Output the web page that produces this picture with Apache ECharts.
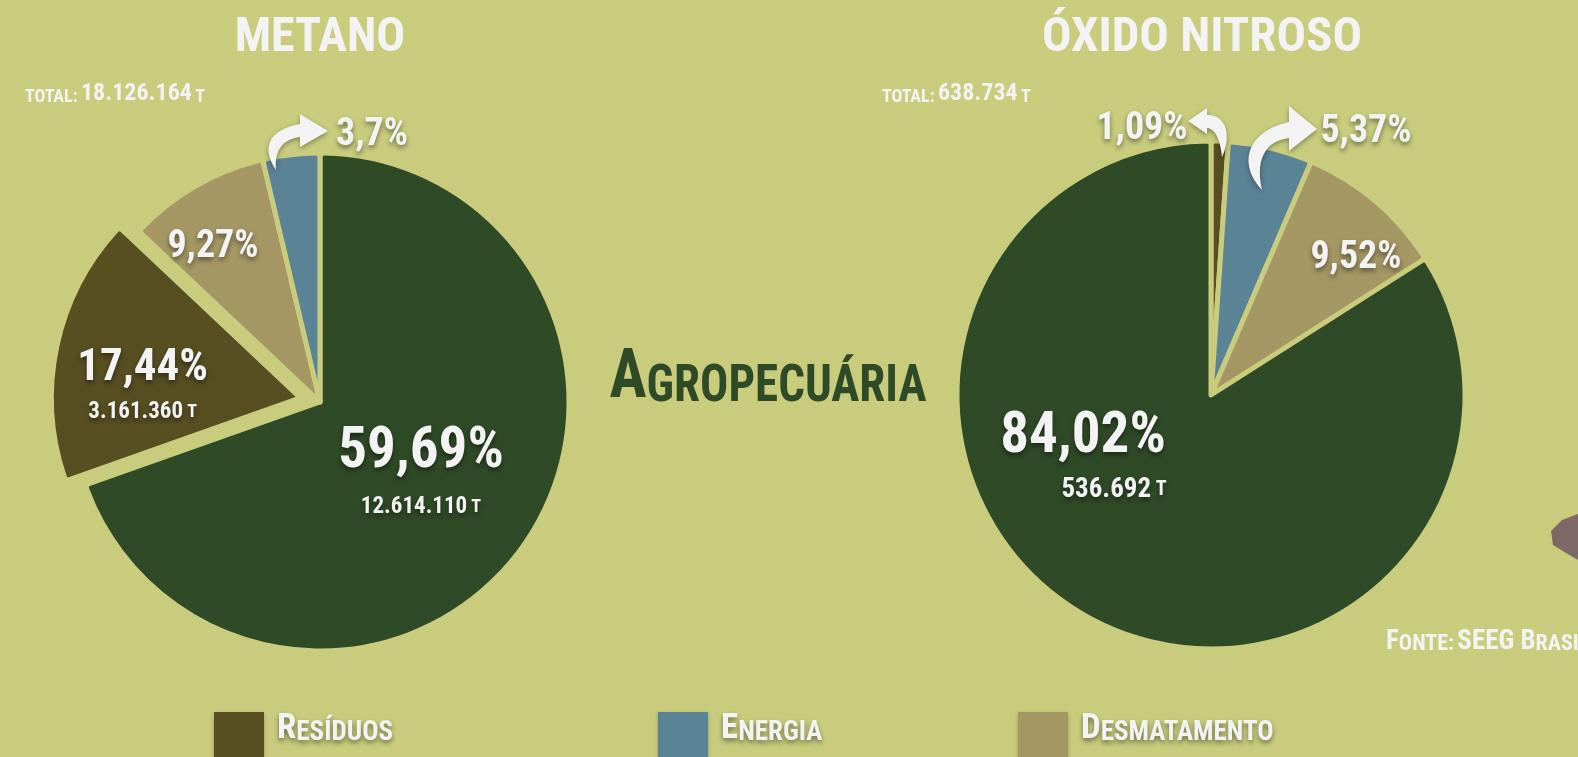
<!DOCTYPE html>
<html>
<head>
<meta charset="utf-8">
<script src="https://cdn.jsdelivr.net/npm/echarts@6/dist/echarts.min.js"></script>
<style>
  html, body { margin: 0; padding: 0; background: #c8cc7c; }
  #chart { width: 1578px; height: 757px; }
</style>
</head>
<body>
<div id="chart"></div>
<script>
// dados - metano
var metanoCats = ['Agropecuária', 'Resíduos', 'Desmatamento', 'Energia'];
var metanoVals = [12614110, 3161360, 1680295, 670399];
var metanoPct = ['59,69%', '17,44%', '9,27%', '3,7%'];
var metanoTon = ['12.614.110', '3.161.360', '', ''];
var metanoTotal = '18.126.164';

// dados - oxido nitroso
var oxidoCats = ['Resíduos', 'Energia', 'Desmatamento', 'Agropecuária'];
var oxidoVals = [6962, 34300, 60780, 536692];
var oxidoPct = ['1,09%', '5,37%', '9,52%', '84,02%'];
var oxidoTon = ['', '', '', '536.692'];
var oxidoTotal = '638.734';

var legendCats = ['Resíduos', 'Energia', 'Desmatamento'];

// layout
var bg = '#c8cc7c';
var FONT = '"Roboto Condensed", "Liberation Sans Narrow", "DejaVu Sans Condensed", sans-serif';
var cores = {
  'Agropecuária': '#2f4a27',
  'Resíduos': '#574e22',
  'Energia': '#5a8396',
  'Desmatamento': '#a49764'
};
var metanoCenter = [320, 402];
var oxidoCenter = [1211, 395];
var metanoLabelPos = [[101, 25], null, [-107, -175], [52, -287]];
var metanoLabelSize = ['a', 'm', 's', 's'];
var metanoShift = [0, 0, 0, 0];
var oxidoLabelPos = [[-69, -286], [155, -283], [145, -157], [-128, 17]];
var oxidoLabelSize = ['s', 's', 's', 'b'];
var oxidoShift = [0, 0, 0, 62];
// fatia destacada: rotulo segue a fatia, ajuste por padding
var explodePad = [36, 66, 0, 0];
var legendLeft = [214, 658, 1018];

var white = '#f3f3f3';
var shadow = { textShadowColor: 'rgba(0,0,0,0.45)', textShadowBlur: 5, textShadowOffsetY: 3 };

function txt(size, lh, extra) {
  var o = { fontFamily: FONT, fontWeight: 'bold', fontSize: size, color: white, lineHeight: lh };
  for (var k in shadow) o[k] = shadow[k];
  for (var k2 in extra) o[k2] = extra[k2];
  return o;
}

var rich = {
  pa: txt(57, 52), ta: txt(23, 56), ua: txt(18, 56),
  pb: txt(57, 52), tb: txt(27, 52), ub: txt(20, 52),
  pm: txt(45, 46), tm: txt(23, 42), um: txt(18, 42),
  ps: txt(38, 40)
};

function makePie(cats, vals, pct, ton, center, pos, size, shift, radius, explode) {
  var r = {};
  for (var k in rich) r[k] = rich[k];
  cats.forEach(function (c, i) {
    if (shift[i]) {
      var base = rich['t' + size[i]];
      var s = {};
      for (var kk in base) s[kk] = base[kk];
      s.padding = shift[i] > 0 ? [0, 0, 0, shift[i]] : [0, -shift[i], 0, 0];
      r['t' + size[i] + i] = s;
    }
  });
  return {
    type: 'pie',
    center: center,
    radius: radius,
    startAngle: 90,
    clockwise: true,
    animation: false,
    selectedMode: 'multiple',
    selectedOffset: 20,
    avoidLabelOverlap: false,
    emphasis: { scale: false },
    itemStyle: { borderColor: bg, borderWidth: 5, borderRadius: 4 },
    data: cats.map(function (c, i) {
      var item = { name: c, value: vals[i], selected: c === explode, itemStyle: { color: cores[c] } };
      if (c === explode) item.label = { padding: explodePad };
      return item;
    }),
    label: {
      show: true,
      position: 'inside',
      rich: r,
      formatter: function (p) {
        var i = p.dataIndex, s = size[i];
        var out = '{p' + s + '|' + pct[i] + '}';
        if (ton[i]) {
          out += '\n{t' + s + (shift[i] ? i : '') + '|' + ton[i] + '}{u' + s + '| T}';
        }
        return out;
      }
    },
    labelLine: { show: false },
    labelLayout: function (p) {
      var d = pos[p.dataIndex];
      if (!d) return { align: 'center', verticalAlign: 'middle' };
      return { x: center[0] + d[0], y: center[1] + d[1], align: 'center', verticalAlign: 'top' };
    }
  };
}

// converte "M x y C ... L ..." em pontos de poligono
function pathPoints(d) {
  var t = d.trim().split(/\s+/), pts = [], i = 0, cur = [0, 0];
  while (i < t.length) {
    var cmd = t[i++];
    if (cmd === 'M' || cmd === 'L') {
      cur = [+t[i], +t[i + 1]]; i += 2; pts.push(cur);
    } else if (cmd === 'C') {
      var p1 = [+t[i], +t[i + 1]], p2 = [+t[i + 2], +t[i + 3]], p3 = [+t[i + 4], +t[i + 5]];
      i += 6;
      for (var s = 1; s <= 14; s++) {
        var u = s / 14, v = 1 - u;
        pts.push([
          v * v * v * cur[0] + 3 * v * v * u * p1[0] + 3 * v * u * u * p2[0] + u * u * u * p3[0],
          v * v * v * cur[1] + 3 * v * v * u * p1[1] + 3 * v * u * u * p2[1] + u * u * u * p3[1]
        ]);
      }
      cur = p3;
    }
  }
  return pts;
}

var chart = echarts.init(document.getElementById('chart'));

var textShadowG = { shadowColor: 'rgba(0,0,0,0.45)', shadowBlur: 5, shadowOffsetY: 3 };
function gtext(x, y, text, richStyle, align, fill, sy) {
  var st = { text: text, rich: richStyle, align: align || 'left', verticalAlign: 'middle', fill: fill || white };
  for (var k in textShadowG) st[k] = textShadowG[k];
  return { type: 'text', x: x, y: y, scaleY: sy || 1, z: 50, style: st };
}
function rs(size, fill) {
  return { fontFamily: FONT, fontWeight: 'bold', fontSize: size, color: fill || white, verticalAlign: 'bottom' };
}

var arrowStyle = { fill: white, shadowColor: 'rgba(0,0,0,0.35)', shadowBlur: 5, shadowOffsetY: 2 };
var arrows = [
  'M 276 170 C 262 150 266 130 300 124 L 300 114 L 328 131 L 300 147 L 300 137 C 283 139 274 150 276 170 Z',
  'M 1262 190 C 1238 165 1245 132 1289 122 L 1289 106 L 1317 129 L 1289 151 L 1289 138 C 1265 141 1255 160 1262 190 Z',
  'M 1188 121 L 1207 108 L 1207 115 C 1226 114 1232 136 1222 157 C 1220 140 1216 129 1207 128 L 1207 134 Z'
];

chart.setOption({
  backgroundColor: bg,
  animation: false,
  legend: legendCats.map(function (n, i) {
    return {
      data: [n],
      left: legendLeft[i],
      top: 712,
      padding: 0,
      itemWidth: 50,
      itemHeight: 50,
      icon: 'rect',
      selectedMode: false,
      itemStyle: { borderWidth: 0, shadowBlur: 4, shadowColor: 'rgba(0,0,0,0.25)', shadowOffsetY: 2 },
      formatter: function (name) {
        var u = name.toUpperCase();
        return '{b|' + u.charAt(0) + '}{s|' + u.slice(1) + '}';
      },
      textStyle: {
        rich: {
          b: txt(35, 40, { verticalAlign: 'bottom', padding: [0, 0, 10, 8] }),
          s: txt(27, 40, { verticalAlign: 'bottom', padding: [0, 0, 10, 0] })
        }
      }
    };
  }),
  graphic: [
    gtext(320, 39, '{t|METANO}', { t: rs(48) }, 'center'),
    gtext(1202, 39, '{t|ÓXIDO NITROSO}', { t: rs(49) }, 'center'),
    gtext(25, 94, '{s|TOTAL:} {n|' + metanoTotal + '} {s|T}', { s: rs(18), n: rs(24) }, 'left'),
    gtext(882, 94, '{s|TOTAL:} {n|' + oxidoTotal + '} {s|T}', { s: rs(18), n: rs(24) }, 'left'),
    gtext(768, 380, '{a|A}{b|GROPECUÁRIA}', { a: rs(62, cores['Agropecuária']), b: rs(47, cores['Agropecuária']) }, 'center', cores['Agropecuária'], 1.1),
    gtext(1386, 642, '{b|F}{s|ONTE:} {b|SEEG B}{s|RASIL}', { b: rs(27), s: rs(22) }, 'left'),
    {
      type: 'polygon', z: 5,
      shape: { points: [[1578, 514], [1562, 520], [1551, 531], [1553, 545], [1566, 553], [1578, 560]] },
      style: { fill: '#7d6866' }
    }
  ].concat(arrows.map(function (d) {
    return { type: 'polygon', z: 40, shape: { points: pathPoints(d) }, style: arrowStyle };
  })),
  series: [
    makePie(metanoCats, metanoVals, metanoPct, metanoTon, metanoCenter, metanoLabelPos, metanoLabelSize, metanoShift, 249, 'Resíduos'),
    makePie(oxidoCats, oxidoVals, oxidoPct, oxidoTon, oxidoCenter, oxidoLabelPos, oxidoLabelSize, oxidoShift, 254, null)
  ]
});
</script>
</body>
</html>
